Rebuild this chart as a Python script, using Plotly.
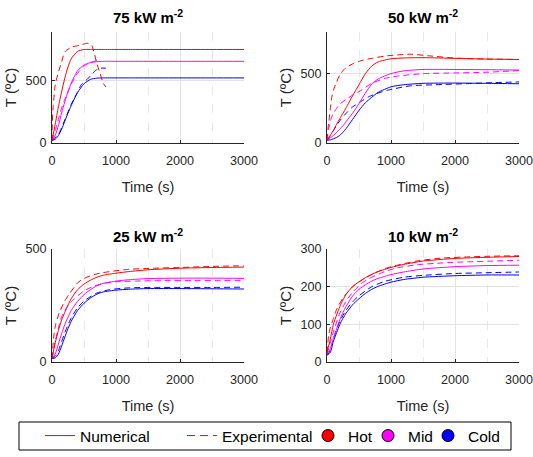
import plotly.graph_objects as go

# ---------------- data ----------------
panel_titles = ["75 kW m<sup>-2</sup>", "50 kW m<sup>-2</sup>", "25 kW m<sup>-2</sup>", "10 kW m<sup>-2</sup>"]
y_max = [890, 800, 500, 300]
y_dtick = [500, 500, 500, 100]
x_ticks = [0, 1000, 2000, 3000]

# numerical results (shared time grid, s)
t_num = [0, 50, 100, 150, 200, 250, 300, 400, 500, 600, 700, 800, 1000, 1200, 1500, 2000, 2500, 3000]

num_75_hot  = [20, 150, 290, 410, 520, 610, 675, 735, 750, 750, 750, 750, 750, 750, 750, 750, 750, 750]
num_75_mid  = [20, 60, 140, 240, 330, 410, 480, 580, 625, 645, 652, 655, 655, 655, 655, 655, 655, 655]
num_75_cold = [20, 30, 60, 110, 175, 240, 300, 405, 475, 510, 520, 522, 522, 522, 522, 522, 522, 522]

num_50_hot  = [20, 55, 90, 135, 175, 215, 255, 340, 420, 500, 555, 585, 607, 613, 615, 610, 605, 602]
num_50_mid  = [20, 35, 55, 75, 100, 125, 155, 215, 285, 360, 425, 462, 500, 520, 530, 530, 528, 526]
num_50_cold = [20, 22, 30, 40, 55, 78, 105, 170, 235, 290, 330, 365, 405, 420, 430, 432, 430, 427]

num_25_hot  = [15, 85, 140, 185, 220, 252, 280, 320, 345, 362, 375, 384, 393, 400, 408, 415, 418, 420]
num_25_mid  = [15, 35, 80, 125, 165, 198, 228, 268, 298, 320, 337, 348, 358, 364, 369, 371, 371, 370]
num_25_cold = [15, 18, 35, 70, 110, 148, 180, 228, 260, 283, 300, 310, 318, 322, 325, 325, 324, 323]

num_10_hot  = [25, 60, 100, 125, 147, 165, 180, 200, 213, 224, 233, 240, 251, 259, 268, 275, 278, 280]
num_10_mid  = [20, 35, 62, 88, 112, 132, 148, 175, 193, 205, 215, 222, 232, 239, 247, 253, 256, 257]
num_10_cold = [18, 25, 55, 78, 100, 116, 130, 152, 168, 182, 193, 201, 212, 219, 225, 229, 231, 231]

# experimental results
t_exp_75_hot  = [0, 5, 20, 50, 90, 150, 200, 300, 380, 470, 560, 620, 660, 700, 750, 800, 840]
exp_75_hot    = [20, 170, 300, 465, 550, 650, 730, 768, 778, 790, 800, 785, 720, 640, 560, 480, 450]
t_exp_75_mid  = [0, 50, 100, 150, 200, 300, 400, 500, 600, 700]
exp_75_mid    = [20, 100, 190, 280, 350, 470, 560, 615, 645, 660]
t_exp_75_cold = [0, 100, 200, 300, 400, 460, 550, 620, 690, 760, 840]
exp_75_cold   = [20, 70, 185, 310, 410, 470, 510, 550, 585, 600, 600]

t_exp_50_hot  = [0, 15, 30, 50, 75, 100, 150, 200, 280, 400, 560, 700, 900, 1100, 1300, 1600, 2000, 2500, 3000]
exp_50_hot    = [20, 100, 155, 240, 330, 380, 440, 490, 537, 570, 597, 610, 626, 635, 640, 628, 612, 605, 602]
t_exp_50_mid  = [0, 30, 60, 100, 150, 200, 300, 400, 500, 700, 900, 1100, 1500, 2000, 2500, 3000]
exp_50_mid    = [20, 110, 170, 215, 250, 280, 315, 345, 370, 430, 465, 482, 500, 505, 510, 522]
t_exp_50_cold = [0, 50, 100, 200, 300, 400, 500, 650, 800, 950, 1300, 1700, 2200, 2600, 3000]
exp_50_cold   = [20, 50, 90, 160, 215, 260, 290, 333, 360, 381, 412, 420, 428, 435, 440]

t_exp_25_hot  = [0, 30, 60, 120, 200, 280, 400, 500, 700, 900, 1200, 1600, 2000, 2500, 3000]
exp_25_hot    = [15, 120, 170, 222, 270, 305, 350, 370, 390, 400, 410, 415, 418, 423, 426]
t_exp_25_mid  = [0, 50, 100, 150, 250, 350, 500, 650, 800, 1000, 1300, 1700, 2200, 2600, 3000]
exp_25_mid    = [15, 90, 150, 200, 250, 280, 315, 335, 348, 355, 358, 360, 360, 360, 360]
t_exp_25_cold = [0, 50, 100, 200, 300, 400, 500, 700, 900, 1200, 1600, 2000, 2500, 3000]
exp_25_cold   = [15, 25, 50, 130, 195, 240, 270, 305, 320, 328, 330, 330, 330, 331]

t_exp_10_hot  = [0, 25, 50, 100, 150, 250, 400, 550, 700, 900, 1100, 1400, 1800, 2200, 2600, 3000]
exp_10_hot    = [25, 70, 90, 115, 140, 170, 200, 218, 232, 248, 257, 268, 276, 279, 281, 282]
t_exp_10_mid  = [0, 50, 100, 200, 300, 400, 550, 700, 900, 1100, 1400, 1800, 2200, 2600, 3000]
exp_10_mid    = [20, 50, 80, 130, 162, 185, 210, 225, 240, 250, 258, 263, 266, 268, 270]
t_exp_10_cold = [0, 50, 100, 200, 300, 400, 500, 700, 900, 1200, 1500, 2000, 2500, 3000]
exp_10_cold   = [18, 30, 62, 108, 138, 160, 176, 200, 214, 225, 230, 235, 237, 239]

series_colors = {"Hot": "#FF0000", "Mid": "#FF00FF", "Cold": "#0000FF"}
legend_labels = ["Numerical", "Experimental", "Hot", "Mid", "Cold"]

numerical = [
    {"Hot": num_75_hot, "Mid": num_75_mid, "Cold": num_75_cold},
    {"Hot": num_50_hot, "Mid": num_50_mid, "Cold": num_50_cold},
    {"Hot": num_25_hot, "Mid": num_25_mid, "Cold": num_25_cold},
    {"Hot": num_10_hot, "Mid": num_10_mid, "Cold": num_10_cold},
]
experimental = [
    {"Hot": (t_exp_75_hot, exp_75_hot), "Mid": (t_exp_75_mid, exp_75_mid), "Cold": (t_exp_75_cold, exp_75_cold)},
    {"Hot": (t_exp_50_hot, exp_50_hot), "Mid": (t_exp_50_mid, exp_50_mid), "Cold": (t_exp_50_cold, exp_50_cold)},
    {"Hot": (t_exp_25_hot, exp_25_hot), "Mid": (t_exp_25_mid, exp_25_mid), "Cold": (t_exp_25_cold, exp_25_cold)},
    {"Hot": (t_exp_10_hot, exp_10_hot), "Mid": (t_exp_10_mid, exp_10_mid), "Cold": (t_exp_10_cold, exp_10_cold)},
]

# ---------------- layout geometry ----------------
W, H = 533, 457
FONT = "Liberation Sans, Arial, Helvetica, sans-serif"
AX_COL = "#262626"
GRID = "#e3e3e3"
TICK_SIZE = 12.6
AXTITLE_SIZE = 14.5

def px_x(p):
    return p / W

def px_y(p):
    return 1 - p / H

x_dom = [[px_x(52), px_x(244)], [px_x(327), px_x(519)], [px_x(52), px_x(244)], [px_x(327), px_x(519)]]
y_dom = [[px_y(143), px_y(32)], [px_y(143), px_y(32)], [px_y(362), px_y(249)], [px_y(362), px_y(249)]]
title_y = [px_y(17), px_y(17), px_y(235.5), px_y(235.5)]

fig = go.Figure()

for i in range(4):
    xa = "x" if i == 0 else f"x{i+1}"
    ya = "y" if i == 0 else f"y{i+1}"
    for s in ["Cold", "Mid", "Hot"]:
        fig.add_trace(go.Scatter(
            x=t_num, y=numerical[i][s], xaxis=xa, yaxis=ya, mode="lines",
            line=dict(color=series_colors[s], width=1, shape="spline", smoothing=0.6),
            showlegend=False, hoverinfo="skip"))
        te, ve = experimental[i][s]
        fig.add_trace(go.Scatter(
            x=te, y=ve, xaxis=xa, yaxis=ya, mode="lines",
            line=dict(color=series_colors[s], width=1, dash="6px,4px", shape="spline", smoothing=0.6),
            showlegend=False, hoverinfo="skip"))

# legend-only entries
fig.add_trace(go.Scatter(x=[None], y=[None], mode="lines", name=legend_labels[0],
                         line=dict(color="#FF0000", width=1), legend="legend"))
fig.add_trace(go.Scatter(x=[None], y=[None], mode="lines", name=legend_labels[1],
                         line=dict(color="#FF0000", width=1, dash="8px,5px"), legend="legend2"))
for k, s in enumerate(["Hot", "Mid", "Cold"]):
    fig.add_trace(go.Scatter(x=[None], y=[None], mode="markers", name=s,
                             marker=dict(color=series_colors[s], size=12, symbol="circle",
                                         line=dict(color="black", width=1)),
                             legend=f"legend{k+3}"))

layout = dict(
    width=W, height=H,
    margin=dict(l=0, r=0, t=0, b=0),
    paper_bgcolor="white", plot_bgcolor="white",
    font=dict(family=FONT, size=13, color=AX_COL),
    showlegend=True,
)

for i in range(4):
    xk = "xaxis" if i == 0 else f"xaxis{i+1}"
    yk = "yaxis" if i == 0 else f"yaxis{i+1}"
    ya = "y" if i == 0 else f"y{i+1}"
    xa = "x" if i == 0 else f"x{i+1}"
    layout[xk] = dict(
        domain=x_dom[i], anchor=ya, range=[0, 3000], tickvals=x_ticks,
        showline=True, linecolor=AX_COL, linewidth=1, zeroline=False,
        ticks="inside", ticklen=3, tickcolor=AX_COL, tickwidth=1,
        showgrid=True, gridcolor=GRID, gridwidth=1,
        minor=dict(dtick=500, tick0=0, showgrid=True, gridcolor="#e8e8e8", griddash="dash", ticks=""),
        tickfont=dict(size=TICK_SIZE, color=AX_COL, family=FONT),
        ticklabeloverflow="allow", ticklabelstandoff=6,
        title=dict(text="Time (s)", font=dict(size=AXTITLE_SIZE, color=AX_COL, family=FONT), standoff=14),
        automargin=False, fixedrange=True,
    )
    layout[yk] = dict(
        domain=y_dom[i], anchor=xa, range=[0, y_max[i]], dtick=y_dtick[i], tick0=0,
        showline=True, linecolor=AX_COL, linewidth=1, zeroline=False,
        ticks="inside", ticklen=3, tickcolor=AX_COL, tickwidth=1,
        showgrid=True, gridcolor=GRID, gridwidth=1,
        tickfont=dict(size=TICK_SIZE, color=AX_COL, family=FONT),
        ticklabeloverflow="allow", ticklabelstandoff=2,
        title=dict(text="T (ºC)", font=dict(size=15, color=AX_COL, family=FONT), standoff=5),
        automargin=False, fixedrange=True,
    )

annotations = []
for i in range(4):
    annotations.append(dict(
        text=f"<b>{panel_titles[i]}</b>", xref="paper", yref="paper",
        x=(x_dom[i][0] + x_dom[i][1]) / 2, y=title_y[i], xanchor="center", yanchor="middle",
        showarrow=False, font=dict(size=15, color="black", family=FONT)))
layout["annotations"] = annotations

# legend frame
layout["shapes"] = [dict(type="rect", xref="paper", yref="paper",
                         x0=px_x(19), x1=px_x(511), y0=px_y(450), y1=px_y(422),
                         line=dict(color="black", width=1), fillcolor="rgba(0,0,0,0)")]

leg_x = [40, 182, 308, 368, 428]
for k in range(5):
    key = "legend" if k == 0 else f"legend{k+1}"
    layout[key] = dict(
        x=px_x(leg_x[k]), y=px_y(436), xanchor="left", yanchor="middle",
        orientation="h", bgcolor="rgba(0,0,0,0)", borderwidth=0,
        font=dict(size=15.5, color="black", family=FONT),
        itemwidth=30,
    )

fig.update_layout(**layout)
fig.write_html("out.html")
